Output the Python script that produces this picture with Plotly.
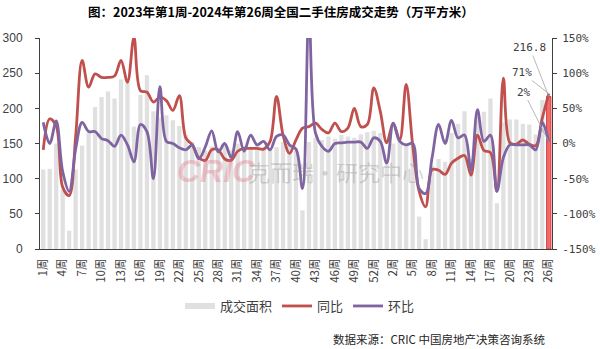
import plotly.graph_objects as go

# Week categories: 2023 has 53 weekly periods, 2024 runs to week 26
weeks_2023 = [f"{w}周" for w in range(1, 54)]
weeks_2024 = [f"{w}周" for w in range(1, 27)]
week_labels = weeks_2023 + weeks_2024

# 成交面积 (万平方米)
area = [113, 114, 150, 85, 26, 113, 147, 165, 202, 216,
        224, 214, 241, 237, 174, 219, 247, 196, 187, 190,
        183, 175, 162, 152, 145, 140, 146, 142, 148, 141,
        150, 146, 142, 147, 144, 141, 145, 152, 149, 140,
        55, 152, 158, 155, 160, 157, 162, 160, 158, 163,
        166, 168, 165, 120, 150, 152, 150, 148, 46, 14,
        118, 128, 124, 165, 178, 196, 128, 190, 195, 214,
        65, 180, 184, 184, 178, 177, 163, 212, 216.8]

# 同比 (%)
yoy = [-9, 35, 25, -62, -74, 10, 118, 80, 99, 94,
       94, 96, 118, 87, 151, 75, 73, 59, 66, 61,
       47, 68, 8, -2, -20, -24, -9, -9, -22, -24,
       -11, -7, -7, -7, -8, 3, 67, 12, -14, 5,
       22, 24, 29, 20, 15, 29, 17, 22, 50, 24,
       27, 79, 46, 1, 29, 5, 84, -2, -68, -90,
       -37, -38, -44, -28, -21, -17, -45, 12, -10, -13,
       -68, 93, 1, -1, 5, -1, -3, 36, 71]

# 环比 (%)
mom = [30, 0, 32, -40, -68, -8, 30, 17, 17, 7,
       4, -4, 12, -2, -26, 27, 17, -50, 81, 3,
       0, -6, -9, -2, -22, -5, 18, -12, 0, -20,
       17, -11, 12, -2, 3, -9, 10, 12, -2, -8,
       -64, 185, 15, -4, -11, 0, 1, 2, 2, 2,
       -7, 8, 3, -28, 29, 3, -2, 0, -64, -71,
       -20, 27, 0, 33, 8, 12, -38, 48, 3, 12,
       -68, -20, -2, -2, -2, -2, -9, 30, 2]

left_ticks = [0, 50, 100, 150, 200, 250, 300]
right_ticks = [-150, -100, -50, 0, 50, 100, 150]
right_ticktext = [f"{v}%" for v in right_ticks]

idx = list(range(len(week_labels)))
tick_idx = idx[0::3]
tick_text = [week_labels[i] for i in tick_idx]

RED = "#C0504D"
PURPLE = "#8064A2"
GRAY_BAR = "#E0E0E0"
AXIS = "#404040"
CJK = "Noto Sans CJK SC"

# plot area in page pixels
L, R, T, B = 40, 48, 38, 100
W, H = 600, 349
PW, PH = W - L - R, H - T - B


def px_to_paper(px, py):
    return (px - L) / PW, (H - B - py) / PH


# the latest week is highlighted
bar_colors = [GRAY_BAR] * (len(area) - 1) + ["#F26B6B"]
bar_line_colors = [GRAY_BAR] * (len(area) - 1) + ["#D93A3A"]
bar_line_widths = [0] * (len(area) - 1) + [1]

fig = go.Figure()
fig.add_trace(go.Bar(
    x=idx, y=area, width=0.66, yaxis="y",
    marker=dict(color=bar_colors,
                line=dict(color=bar_line_colors, width=bar_line_widths)),
    showlegend=False, hoverinfo="skip",
))
# legend entry for the bars, drawn as a short thick line
fig.add_trace(go.Scatter(
    x=[None], y=[None], mode="lines", name="成交面积",
    line=dict(color=GRAY_BAR, width=6),
))
fig.add_trace(go.Scatter(
    x=idx, y=yoy, yaxis="y2", mode="lines", name="同比",
    line=dict(color=RED, width=2.8, shape="spline", smoothing=1),
))
fig.add_trace(go.Scatter(
    x=idx, y=mom, yaxis="y2", mode="lines", name="环比",
    line=dict(color=PURPLE, width=2.8, shape="spline", smoothing=1),
))

last = idx[-1]
label_font = dict(family="DejaVu Sans Mono", size=11, color="#404040")
wm1 = px_to_paper(216, 171)
wm2 = px_to_paper(336, 171)
src = px_to_paper(547, 339)
annotations = [
    # watermark
    dict(text="<b><i>CRIC</i></b>", x=wm1[0], y=wm1[1], xref="paper", yref="paper",
         showarrow=False, font=dict(family="Liberation Sans", size=32,
                                    color="rgba(225,110,130,0.35)")),
    dict(text="克而瑞·研究中心", x=wm2[0], y=wm2[1], xref="paper", yref="paper",
         showarrow=False, font=dict(family=CJK, size=22,
                                    color="rgba(130,130,130,0.33)")),
    # value labels for the latest week
    dict(text=f"{area[-1]}", x=last, y=area[-1], xref="x", yref="y",
         ax=-19, ay=-49, showarrow=True, arrowhead=0, arrowwidth=0.8,
         arrowcolor="#A6A6A6", font=label_font),
    dict(text=f"{yoy[-1]}%", x=last, y=yoy[-1], xref="x", yref="y2",
         ax=-27, ay=-21, showarrow=True, arrowhead=0, arrowwidth=0.8,
         arrowcolor="#A6A6A6", font=label_font),
    dict(text=f"{mom[-1]}%", x=last, y=mom[-1], xref="x", yref="y2",
         ax=-25, ay=-50, showarrow=True, arrowhead=0, arrowwidth=0.8,
         arrowcolor="#A6A6A6", font=label_font),
    # source note
    dict(text="数据来源：CRIC 中国房地产决策咨询系统", x=src[0], y=src[1],
         xref="paper", yref="paper", xanchor="right", yanchor="middle",
         showarrow=False, font=dict(family=CJK, size=11.5, color="#262626")),
]

fig.update_layout(
    width=W, height=H,
    margin=dict(l=L, r=R, t=T, b=B, autoexpand=False),
    paper_bgcolor="white", plot_bgcolor="white",
    bargap=0.34,
    title=dict(text="<b>图：2023年第1周-2024年第26周全国二手住房成交走势（万平方米）</b>",
               x=281 / W, xanchor="center", xref="container",
               y=1 - 13 / H, yanchor="middle", yref="container",
               font=dict(family=CJK, size=12.5, color="#000000")),
    xaxis=dict(range=[-0.5, len(idx) - 0.5], tickmode="array",
               tickvals=tick_idx, ticktext=tick_text, tickangle=-90,
               showline=True, linecolor=AXIS, linewidth=1, ticks="",
               showgrid=False, zeroline=False, ticklabelstandoff=4,
               automargin=False,
               tickfont=dict(family=CJK, size=11.5, color="#404040")),
    yaxis=dict(range=[0, 300], tickmode="array", tickvals=left_ticks,
               showline=True, linecolor=AXIS, linewidth=1,
               ticks="outside", ticklen=4, tickcolor=AXIS,
               showgrid=False, zeroline=False, ticklabelstandoff=10,
               automargin=False,
               tickfont=dict(family="Liberation Sans", size=12, color="#404040")),
    yaxis2=dict(range=[-150, 150], overlaying="y", side="right",
                tickmode="array", tickvals=right_ticks, ticktext=right_ticktext,
                showline=True, linecolor=AXIS, linewidth=1,
                ticks="outside", ticklen=4, tickcolor=AXIS,
                showgrid=False, zeroline=False, ticklabelstandoff=3,
                automargin=False,
                tickfont=dict(family="DejaVu Sans Mono", size=11, color="#404040")),
    legend=dict(orientation="h", x=0.5, xanchor="center", xref="container",
                y=1 - 306 / H, yanchor="middle", yref="container",
                font=dict(family=CJK, size=13, color="#404040"),
                itemwidth=30, tracegroupgap=0),
    annotations=annotations,
    showlegend=True,
)

fig.write_html("out.html")
